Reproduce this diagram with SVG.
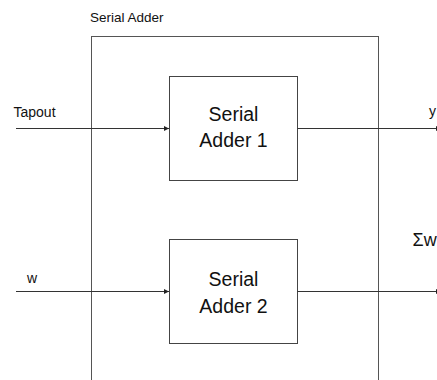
<svg xmlns="http://www.w3.org/2000/svg" width="437" height="380" viewBox="0 0 437 380">
<style>
.box{fill:#fff;stroke:#444;stroke-width:1}
.outer{fill:none;stroke:#555;stroke-width:1}
.wire{fill:none;stroke:#333;stroke-width:1}
.lbl{font-family:"Liberation Sans",Arial,sans-serif;fill:#111}
.big{font-family:"Liberation Sans",Arial,sans-serif;fill:#111;font-size:19.5px;text-anchor:middle}
</style>
<defs>
<marker id="arr" markerWidth="6" markerHeight="6" refX="5" refY="3" orient="auto" markerUnits="userSpaceOnUse">
<path d="M0,0.5 L5,3 L0,5.5 Z" fill="#222"/>
</marker>
</defs>
<rect width="437" height="380" fill="#fff"/>
<g id="serial-adder">
<rect class="outer" x="91.5" y="36.5" width="287" height="350"/>
<text class="lbl" x="90" y="22" font-size="13.5">Serial Adder</text>
</g>
<g id="adder1">
<rect class="box" x="169.5" y="76.5" width="128" height="104"/>
<text class="big" x="233.5" y="121">Serial</text>
<text class="big" x="233.5" y="147">Adder 1</text>
</g>
<g id="adder2">
<rect class="box" x="169.5" y="239.5" width="128" height="104"/>
<text class="big" x="233.5" y="286">Serial</text>
<text class="big" x="233.5" y="313">Adder 2</text>
</g>
<g id="connectors">
<line class="wire" x1="16" y1="128.5" x2="169" y2="128.5" marker-end="url(#arr)"/>
<line class="wire" x1="297.5" y1="128.5" x2="441" y2="128.5" marker-end="url(#arr)"/>
<line class="wire" x1="16" y1="291.5" x2="169" y2="291.5" marker-end="url(#arr)"/>
<line class="wire" x1="297.5" y1="291.5" x2="441" y2="291.5" marker-end="url(#arr)"/>
</g>
<g id="labels">
<text class="lbl" x="13.5" y="117" font-size="14">Tapout</text>
<text class="lbl" x="429" y="116" font-size="14">y</text>
<text class="lbl" x="27" y="283" font-size="14">w</text>
<text class="lbl" x="412.5" y="245.5" font-size="18">Σw</text>
</g>
</svg>
